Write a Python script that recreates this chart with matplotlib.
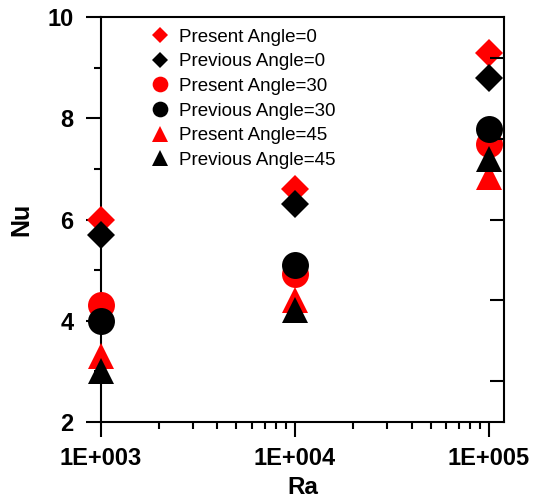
import numpy as np
import matplotlib
matplotlib.use("Agg")
import matplotlib.pyplot as plt
from matplotlib.ticker import FixedLocator, FuncFormatter, NullFormatter

plt.rcParams['font.family'] = ['Liberation Sans', 'DejaVu Sans']

# === Données ===
ra = [1e3, 1e4, 1e5]
present_0 = [6.0, 6.6, 9.3]
previous_0 = [5.7, 6.3, 8.8]
present_30 = [4.3, 4.93, 7.5]
previous_30 = [4.0, 5.1, 7.8]
present_45 = [3.3, 4.4, 6.85]
previous_45 = [3.0, 4.2, 7.2]

series = [
    ("Present Angle=0", present_0, 'D', 'red'),
    ("Previous Angle=0", previous_0, 'D', 'black'),
    ("Present Angle=30", present_30, 'o', 'red'),
    ("Previous Angle=30", previous_30, 'o', 'black'),
    ("Present Angle=45", present_45, '^', 'red'),
    ("Previous Angle=45", previous_45, '^', 'black'),
]
sizes = {'D': 14.3, 'o': 19.4, '^': 19.4}

fig = plt.figure(figsize=(5.35, 5.0), dpi=100)
ax = fig.add_axes([0.1879, 0.1566, 0.7548, 0.8088])

for label, vals, mk, col in series:
    ax.plot(ra, vals, linestyle='none', marker=mk, color=col,
            markersize=sizes[mk], markeredgewidth=0, label=label,
            clip_on=False, zorder=3)

ax.set_xscale('log')
ax.set_xlim(1e3, 10 ** 5.079)
ax.set_ylim(2, 10)

# axe x
ax.xaxis.set_major_locator(FixedLocator([1e3, 1e4, 1e5]))
ax.xaxis.set_minor_locator(FixedLocator([m * 10 ** e for e in (3, 4) for m in range(2, 10)]))
ax.xaxis.set_major_formatter(FuncFormatter(lambda v, p: "1E+%03d" % int(round(np.log10(v)))))
ax.xaxis.set_minor_formatter(NullFormatter())

# axe y
ax.yaxis.set_major_locator(FixedLocator([2, 4, 6, 8, 10]))
ax.yaxis.set_minor_locator(FixedLocator([3, 5, 7, 9]))

ax.tick_params(which='major', direction='out', length=10.5, width=1.5,
               labelsize=17)
ax.tick_params(axis='x', which='major', pad=8)
ax.tick_params(axis='y', which='major', pad=9)
ax.tick_params(which='minor', direction='out', length=5, width=1.5)
ax.tick_params(axis='y', which='both', right=False)
ax.tick_params(axis='x', which='both', top=False)
for lab in ax.get_xticklabels() + ax.get_yticklabels():
    lab.set_fontweight('bold')
for sp in ax.spines.values():
    sp.set_linewidth(1.5)

ax.set_xlabel("Ra", fontsize=17.5, fontweight='bold', labelpad=4)
ax.set_ylabel("Nu", fontsize=18, fontweight='bold', labelpad=10)

# ticks à droite
ax2 = ax.twinx()
ax2.set_ylim(0, 5)
ax2.yaxis.set_major_locator(FixedLocator([0.5, 1.5, 2.5, 3.5, 4.5]))
ax2.tick_params(axis='y', direction='in', length=10, width=1.5, labelright=False)
for sp in ax2.spines.values():
    sp.set_visible(False)

# légende
handles, labels = ax.get_legend_handles_labels()
leg = ax.legend(handles, labels, loc='upper left', bbox_to_anchor=(0.123, 0.972),
                frameon=False, fontsize=13.5, handlelength=1.0, handletextpad=0.55,
                borderpad=0, borderaxespad=0, labelspacing=0.4)
for h, (_, _, mk, _) in zip(leg.legend_handles, series):
    h.set_markersize({'D': 8, 'o': 11.3, '^': 11.3}[mk])

fig.savefig("out.png", dpi=100)
